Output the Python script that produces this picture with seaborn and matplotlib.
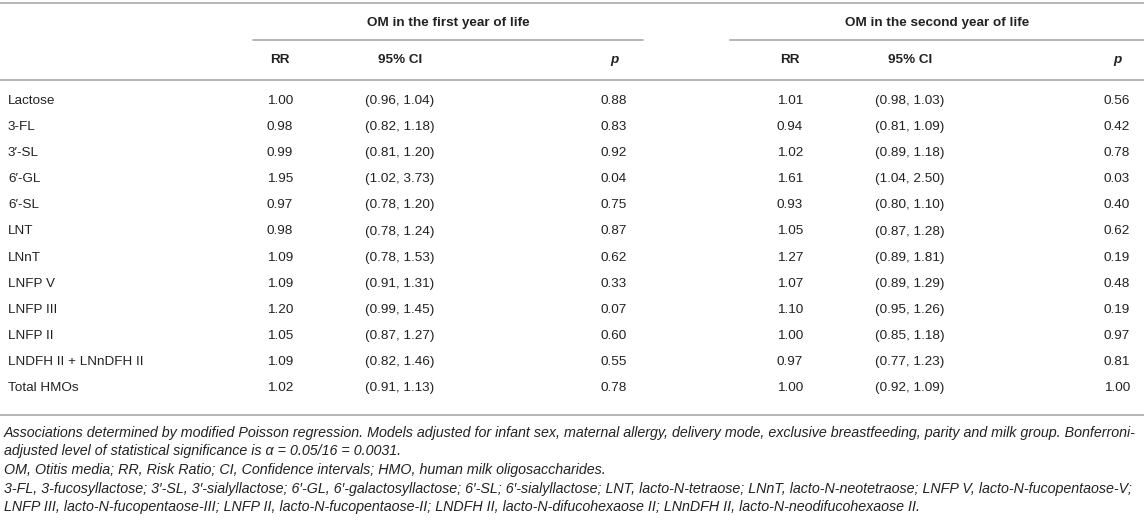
import matplotlib
matplotlib.use("Agg")
import matplotlib.pyplot as plt
import seaborn as sns

# table contents
hmos = ['Lactose', '3-FL', '3\u2032-SL', '6\u2032-GL', '6\u2032-SL', 'LNT', 'LNnT',
        'LNFP V', 'LNFP III', 'LNFP II', 'LNDFH II + LNnDFH II', 'Total HMOs']

rr_y1 = ['1.00', '0.98', '0.99', '1.95', '0.97', '0.98', '1.09', '1.09', '1.20', '1.05', '1.09', '1.02']
ci_y1 = ['(0.96, 1.04)', '(0.82, 1.18)', '(0.81, 1.20)', '(1.02, 3.73)', '(0.78, 1.20)', '(0.78, 1.24)',
         '(0.78, 1.53)', '(0.91, 1.31)', '(0.99, 1.45)', '(0.87, 1.27)', '(0.82, 1.46)', '(0.91, 1.13)']
p_y1 = ['0.88', '0.83', '0.92', '0.04', '0.75', '0.87', '0.62', '0.33', '0.07', '0.60', '0.55', '0.78']

rr_y2 = ['1.01', '0.94', '1.02', '1.61', '0.93', '1.05', '1.27', '1.07', '1.10', '1.00', '0.97', '1.00']
ci_y2 = ['(0.98, 1.03)', '(0.81, 1.09)', '(0.89, 1.18)', '(1.04, 2.50)', '(0.80, 1.10)', '(0.87, 1.28)',
         '(0.89, 1.81)', '(0.89, 1.29)', '(0.95, 1.26)', '(0.85, 1.18)', '(0.77, 1.23)', '(0.92, 1.09)']
p_y2 = ['0.56', '0.42', '0.78', '0.03', '0.40', '0.62', '0.19', '0.48', '0.19', '0.97', '0.81', '1.00']

groups = ['OM in the first year of life', 'OM in the second year of life']
subheads = ['RR', '95% CI', 'p']

footnotes = [
    'Associations determined by modified Poisson regression. Models adjusted for infant sex, maternal allergy, delivery mode, exclusive breastfeeding, parity and milk group. Bonferroni-',
    'adjusted level of statistical significance is \u03b1 = 0.05/16 = 0.0031.',
    'OM, Otitis media; RR, Risk Ratio; CI, Confidence intervals; HMO, human milk oligosaccharides.',
    '3-FL, 3-fucosyllactose; 3\u2032-SL, 3\u2032-sialyllactose; 6\u2032-GL, 6\u2032-galactosyllactose; 6\u2032-SL; 6\u2032-sialyllactose; LNT, lacto-N-tetraose; LNnT, lacto-N-neotetraose; LNFP V, lacto-N-fucopentaose-V;',
    'LNFP III, lacto-N-fucopentaose-III; LNFP II, lacto-N-fucopentaose-II; LNDFH II, lacto-N-difucohexaose II; LNnDFH II, lacto-N-neodifucohexaose II.',
]

sns.set_theme(style="white")
plt.rcParams['font.family'] = ['Liberation Sans', 'DejaVu Sans']

W, H = 1144, 523
fig = plt.figure(figsize=(W / 100, H / 100), dpi=100)
ax = fig.add_axes([0, 0, 1, 1])
ax.set_xlim(0, W)
ax.set_ylim(H, 0)
ax.axis('off')

txt = '#222222'
rule = '#b5b5b5'
fs = 9.7
fs_note = 10.25

# layout
col_x = [[280, 400, 614], [790, 910, 1117]]
group_x = [448, 937]
group_span = [(253, 643), (730, 1144)]
y_group, y_sub = 23, 60
y0, dy = 101, 26.1

ax.plot([0, W], [2.5, 2.5], color=rule, lw=1.4)
ax.plot([0, W], [80, 80], color=rule, lw=1.4)
ax.plot([0, W], [415, 415], color=rule, lw=1.4)

for g in range(2):
    ax.text(group_x[g], y_group, groups[g], ha='center', va='center',
            fontsize=fs, fontweight='bold', color=txt)
    ax.plot(group_span[g], [39.5, 39.5], color=rule, lw=1.4)
    for c, head in enumerate(subheads):
        ax.text(col_x[g][c], y_sub, head, ha='center', va='center', fontsize=fs,
                fontweight='bold', fontstyle='italic' if head == 'p' else 'normal', color=txt)

cols = [[rr_y1, ci_y1, p_y1], [rr_y2, ci_y2, p_y2]]
for i, name in enumerate(hmos):
    y = y0 + i * dy
    ax.text(8, y, name, ha='left', va='center', fontsize=fs, color=txt)
    for g in range(2):
        for c in range(3):
            ax.text(col_x[g][c], y, cols[g][c][i], ha='center', va='center', fontsize=fs, color=txt)

for j, line in enumerate(footnotes):
    ax.text(4, 433 + j * 18.5, line, ha='left', va='center', fontsize=fs_note,
            fontstyle='italic', color=txt)

fig.savefig('out.png', dpi=100, facecolor='white')
